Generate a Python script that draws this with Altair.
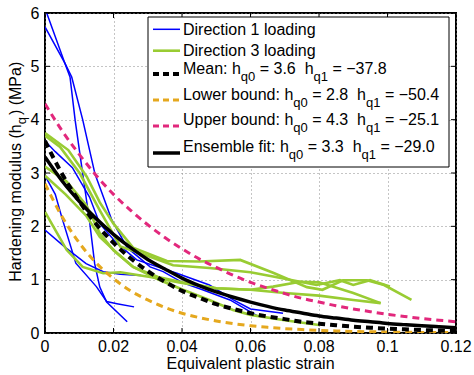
import altair as alt
import pandas as pd

# ---------------- data ----------------
x_ticks = [0, 0.02, 0.04, 0.06, 0.08, 0.1, 0.12]
x_tick_labels = ["0", "0.02", "0.04", "0.06", "0.08", "0.1", "0.12"]
y_ticks = [0, 1, 2, 3, 4, 5, 6]

# Direction 1 loading (blue)
dir1_a_x = [0.0005, 0.0058, 0.0078, 0.011, 0.0146, 0.0195, 0.024, 0.0307, 0.0345, 0.0403, 0.046, 0.054, 0.062]
dir1_a_y = [6.0, 5.06, 4.8, 4.0, 2.98, 2.12, 1.6, 1.24, 1.15, 0.94, 0.81, 0.62, 0.32]
dir1_b_x = [0.0, 0.0058, 0.0073, 0.0088, 0.0112, 0.013, 0.0145, 0.016, 0.018, 0.024]
dir1_b_y = [5.74, 5.06, 4.8, 3.99, 2.9, 2.1, 1.3, 0.86, 0.58, 0.21]
dir1_c_x = [0.0, 0.003, 0.008, 0.013, 0.016, 0.021, 0.0268, 0.0385, 0.048, 0.055, 0.06, 0.0695]
dir1_c_y = [3.6, 3.4, 3.1, 2.55, 2.05, 1.68, 1.37, 1.12, 0.9, 0.62, 0.45, 0.37]
dir1_d_x = [0.0, 0.003, 0.005, 0.009, 0.015, 0.018, 0.021, 0.026]
dir1_d_y = [2.95, 2.6, 2.15, 1.31, 0.87, 0.59, 0.55, 0.49]
dir1_e_x = [0.0, 0.006, 0.012, 0.017, 0.022, 0.028]
dir1_e_y = [1.93, 1.6, 1.3, 1.15, 1.1, 1.08]

# Direction 3 loading (green)
dir3_a_x = [0.0, 0.0068, 0.0122, 0.016, 0.02, 0.0257, 0.0356, 0.045, 0.057, 0.0666, 0.0765, 0.081, 0.087, 0.094, 0.099, 0.107]
dir3_a_y = [3.75, 3.43, 2.93, 2.45, 2.05, 1.6, 1.35, 1.34, 1.37, 1.13, 0.86, 0.81, 0.99, 0.99, 0.9, 0.62]
dir3_b_x = [0.0, 0.0044, 0.0102, 0.016, 0.022, 0.0277, 0.0374, 0.048, 0.06, 0.0666, 0.0745, 0.0793, 0.0861, 0.09, 0.0949, 0.1007]
dir3_b_y = [3.7, 3.49, 2.99, 2.3, 1.62, 1.5, 1.27, 1.22, 1.14, 1.06, 0.96, 0.9, 0.99, 0.9, 0.99, 0.87]
dir3_c_x = [0.0, 0.0063, 0.012, 0.016, 0.02, 0.0257, 0.033, 0.04, 0.05, 0.06, 0.0666, 0.0745, 0.08, 0.09, 0.098]
dir3_c_y = [3.12, 2.84, 2.4, 1.87, 1.55, 1.24, 1.05, 0.95, 0.84, 0.81, 0.87, 0.96, 0.95, 0.75, 0.56]
dir3_d_x = [0.0, 0.006, 0.012, 0.016, 0.021, 0.0257, 0.0336, 0.0403, 0.048, 0.0549, 0.06, 0.07, 0.08]
dir3_d_y = [2.95, 2.6, 2.2, 1.8, 1.5, 1.24, 0.99, 0.81, 0.62, 0.43, 0.34, 0.24, 0.15]
dir3_e_x = [0.0, 0.0063, 0.011, 0.017, 0.022, 0.0307, 0.04, 0.05, 0.06, 0.07, 0.08, 0.09, 0.098]
dir3_e_y = [2.27, 1.56, 1.24, 1.12, 1.14, 1.05, 0.94, 0.84, 0.81, 0.75, 0.7, 0.62, 0.56]

# Fitted curves
fit_x = [0, 0.005, 0.01, 0.015, 0.02, 0.025, 0.03, 0.035, 0.04, 0.045, 0.05, 0.055, 0.06,
         0.065, 0.07, 0.075, 0.08, 0.085, 0.09, 0.095, 0.1, 0.105, 0.11, 0.115, 0.12]
mean_y = [3.60, 2.98, 2.47, 2.04, 1.69, 1.40, 1.16, 0.96, 0.79, 0.66, 0.54, 0.45, 0.37,
          0.31, 0.26, 0.21, 0.175, 0.145, 0.12, 0.099, 0.082, 0.068, 0.056, 0.047, 0.039]
lower_y = [2.80, 2.18, 1.69, 1.31, 1.02, 0.79, 0.62, 0.48, 0.37, 0.29, 0.225, 0.175, 0.136,
           0.106, 0.082, 0.064, 0.050, 0.039, 0.030, 0.023, 0.018, 0.014, 0.011, 0.0085, 0.0066]
upper_y = [4.30, 3.79, 3.35, 2.95, 2.60, 2.30, 2.03, 1.79, 1.58, 1.39, 1.23, 1.08, 0.95,
           0.84, 0.74, 0.65, 0.58, 0.51, 0.45, 0.40, 0.35, 0.31, 0.27, 0.24, 0.21]
ensemble_y = [3.30, 2.85, 2.47, 2.14, 1.85, 1.60, 1.38, 1.20, 1.03, 0.89, 0.77, 0.67, 0.58,
              0.50, 0.43, 0.375, 0.32, 0.28, 0.24, 0.21, 0.18, 0.157, 0.136, 0.118, 0.10]

legend_rows = [
    ("Direction 1 loading", None, None, None, None),
    ("Direction 3 loading", None, None, None, None),
    ("Mean: h", "q0", "= 3.6", "q1", "= \u221237.8"),
    ("Lower bound: h", "q0", "= 2.8", "q1", "= \u221250.4"),
    ("Upper bound: h", "q0", "= 4.3", "q1", "= \u221225.1"),
    ("Ensemble fit: h", "q0", "= 3.3", "q1", "= \u221229.0"),
]

# ---------------- styles ----------------
FONT = "Liberation Sans"
FS = 16
SUB = 13
BLUE = "#0000ff"
GREEN = "#99cc33"
ORANGE = "#e5a81e"
MAGENTA = "#e2287c"
W, H = 411, 320

CW = {' ': 278, '(': 333, ')': 333, ':': 278, '=': 584, '.': 278, '\u2212': 584, '-': 333}
for d in "0123456789":
    CW[d] = 556
CW.update({'a': 556, 'b': 556, 'c': 500, 'd': 556, 'e': 556, 'f': 278, 'g': 556, 'h': 556,
           'i': 222, 'j': 222, 'k': 500, 'l': 222, 'm': 833, 'n': 556, 'o': 556, 'p': 556,
           'q': 556, 'r': 333, 's': 500, 't': 278, 'u': 556, 'v': 500, 'w': 722, 'x': 500,
           'y': 500, 'z': 500, 'A': 667, 'D': 722, 'E': 667, 'H': 722, 'L': 556, 'M': 833,
           'P': 667, 'U': 722})


def tw(s, fs):
    return sum(CW.get(c, 556) for c in s) * fs / 1000.0


def frame(names_xy):
    parts = []
    for name, xs, ys in names_xy:
        parts.append(pd.DataFrame({"x": xs, "y": ys, "curve": name}))
    return pd.concat(parts, ignore_index=True)


blue_df = frame([("a", dir1_a_x, dir1_a_y), ("b", dir1_b_x, dir1_b_y), ("c", dir1_c_x, dir1_c_y),
                 ("d", dir1_d_x, dir1_d_y), ("e", dir1_e_x, dir1_e_y)])
green_df = frame([("a", dir3_a_x, dir3_a_y), ("b", dir3_b_x, dir3_b_y), ("c", dir3_c_x, dir3_c_y),
                  ("d", dir3_d_x, dir3_d_y), ("e", dir3_e_x, dir3_e_y)])

xscale = alt.Scale(domain=[0, 0.12], nice=False, zero=False)
yscale = alt.Scale(domain=[0, 6], nice=False, zero=False)
grid_common = dict(grid=True, gridDash=[1, 3], gridColor="#8a8a8a", gridWidth=1, ticks=False,
                   domain=False, labelFont=FONT, labelFontSize=FS, labelColor="black", title=None)
xaxis = alt.Axis(values=x_ticks, labels=False, **grid_common)
yaxis = alt.Axis(values=y_ticks, labelPadding=6, labelFlush=False, labelOverlap=False, **grid_common)


def X(field):
    return alt.X(field, type="quantitative", scale=xscale, axis=xaxis)


def Y(field):
    return alt.Y(field, type="quantitative", scale=yscale, axis=yaxis)


layers = []
layers.append(alt.Chart(blue_df).mark_line(color=BLUE, strokeWidth=1.5, clip=True).encode(
    x=X("x"), y=Y("y"), detail="curve:N", order="x:Q"))
layers.append(alt.Chart(green_df).mark_line(color=GREEN, strokeWidth=2.6, clip=True).encode(
    x=X("x"), y=Y("y"), detail="curve:N"))

fits = pd.DataFrame({"x": fit_x, "mean": mean_y, "lower": lower_y, "upper": upper_y, "ens": ensemble_y})
layers.append(alt.Chart(fits).mark_line(color=ORANGE, strokeWidth=3, strokeDash=[7, 5], clip=True,
                                        interpolate="monotone").encode(x=X("x"), y=Y("lower")))
layers.append(alt.Chart(fits).mark_line(color=MAGENTA, strokeWidth=3, strokeDash=[7, 5], clip=True,
                                        interpolate="monotone").encode(x=X("x"), y=Y("upper")))
layers.append(alt.Chart(fits).mark_line(color="black", strokeWidth=3.5, clip=True,
                                        interpolate="monotone").encode(x=X("x"), y=Y("ens")))
layers.append(alt.Chart(fits).mark_line(color="black", strokeWidth=4, strokeDash=[7, 5], clip=True,
                                        interpolate="monotone").encode(x=X("x"), y=Y("mean")))

# inward ticks on all four sides
xt = pd.DataFrame({"t": x_ticks, "lab": x_tick_labels})
yt = pd.DataFrame({"t": y_ticks})
layers.append(alt.Chart(xt).mark_rule(color="black", strokeWidth=1).encode(
    x=X("t"), y=alt.value(H), y2=alt.value(H - 5)))
layers.append(alt.Chart(xt).mark_rule(color="black", strokeWidth=1).encode(
    x=X("t"), y=alt.value(0), y2=alt.value(5)))
layers.append(alt.Chart(yt).mark_rule(color="black", strokeWidth=1).encode(
    y=Y("t"), x=alt.value(0), x2=alt.value(5)))
layers.append(alt.Chart(yt).mark_rule(color="black", strokeWidth=1).encode(
    y=Y("t"), x=alt.value(W), x2=alt.value(W - 5)))
# x tick labels
layers.append(alt.Chart(xt).mark_text(font=FONT, fontSize=FS, color="black", align="center",
                                      baseline="alphabetic").encode(
    x=X("t"), y=alt.value(338.7), text="lab:N"))

one = pd.DataFrame({"k": [0]})

# legend box
layers.append(alt.Chart(one).mark_rect(fill="white", stroke="black", strokeWidth=1).encode(
    x=alt.value(103), x2=alt.value(404), y=alt.value(4), y2=alt.value(154)))

sym_y = [16.3, 37.7, 61, 87, 113, 140]
base_y = [22, 43, 61, 87, 112, 138.7]
sym_styles = [
    dict(color=BLUE, strokeWidth=1.5),
    dict(color=GREEN, strokeWidth=2.6),
    dict(color="black", strokeWidth=4, strokeDash=[6, 4]),
    dict(color=ORANGE, strokeWidth=3, strokeDash=[6, 4]),
    dict(color=MAGENTA, strokeWidth=3, strokeDash=[6, 4]),
    dict(color="black", strokeWidth=3.5),
]
for sy, st in zip(sym_y, sym_styles):
    layers.append(alt.Chart(one).mark_rule(**st).encode(
        x=alt.value(108), x2=alt.value(135), y=alt.value(sy)))


def text_layer(s, x, y, fs, angle=0, align="left"):
    kw = dict(text=s, font=FONT, fontSize=fs, color="black", align=align, baseline="alphabetic")
    if angle:
        kw["angle"] = angle
    return alt.Chart(one).mark_text(**kw).encode(x=alt.value(x), y=alt.value(y))


sp = tw(" ", FS)
for (main, s1, mid, s2, end), by in zip(legend_rows, base_y):
    x0 = 138
    layers.append(text_layer(main, x0, by, FS))
    if s1 is None:
        continue
    x1 = x0 + tw(main, FS)
    layers.append(text_layer(s1, x1, by + 7, SUB))
    x2 = x1 + tw(s1, SUB) + sp
    layers.append(text_layer(mid, x2, by, FS))
    x3 = x2 + tw(mid, FS) + 2 * sp
    layers.append(text_layer("h", x3, by, FS))
    x4 = x3 + tw("h", FS)
    layers.append(text_layer(s2, x4, by + 7, SUB))
    x5 = x4 + tw(s2, SUB) + sp
    layers.append(text_layer(end, x5, by, FS))

# axis titles
layers.append(text_layer("Equivalent plastic strain", W / 2, 355.5, FS, align="center"))
yt_main = "Hardening modulus (h"
ty0 = 268.7
layers.append(text_layer(yt_main, -24, ty0, FS, angle=270))
ty1 = ty0 - tw(yt_main, FS)
layers.append(text_layer("q", -19, ty1, SUB, angle=270))
ty2 = ty1 - tw("q", SUB) - 2
layers.append(text_layer(") (MPa)", -24, ty2, FS, angle=270))

chart = alt.layer(*layers).properties(
    width=W, height=H,
    autosize=alt.AutoSizeParams(type="none"),
    padding={"left": 45, "top": 13, "right": 18, "bottom": 42},
    background="white",
).configure_view(stroke="black", strokeWidth=2)

chart.save("out.html", embed_options={"renderer": "svg", "actions": False})
